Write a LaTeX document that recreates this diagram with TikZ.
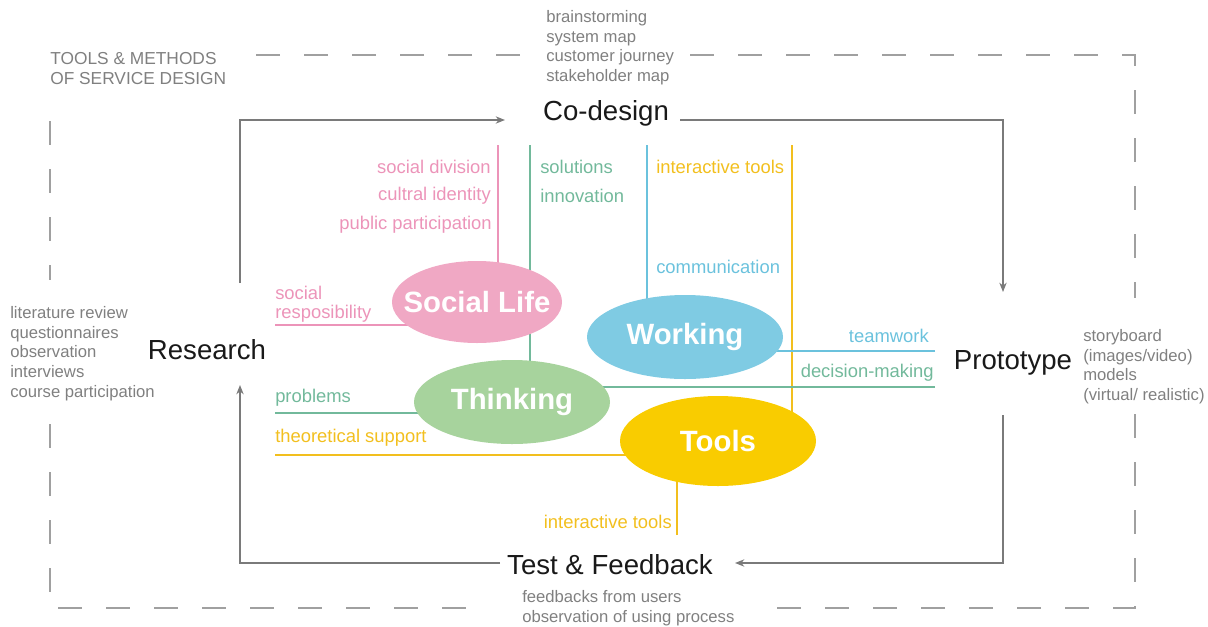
\documentclass[tikz,border=0pt]{standalone}
\usepackage{fontspec}
\setmainfont{Liberation Sans}
\usetikzlibrary{shapes.geometric,arrows.meta,backgrounds}
\definecolor{grayt}{HTML}{808080}
\definecolor{grayl}{HTML}{7A7A7A}
\definecolor{frame}{HTML}{A0A0A0}
\definecolor{pinkl}{HTML}{EC94B9}
\definecolor{pinkf}{HTML}{F0A8C4}
\definecolor{teall}{HTML}{72B99B}
\definecolor{greenf}{HTML}{A7D39D}
\definecolor{bluel}{HTML}{6BC2DD}
\definecolor{bluef}{HTML}{7FCBE3}
\definecolor{yell}{HTML}{F2BF1E}
\definecolor{yelf}{HTML}{F9CC00}
\tikzset{
  graytext/.style={inner sep=0pt, text=grayt, align=left, font=\fontsize{12.5}{14.8}\selectfont},
  titletext/.style={inner sep=0pt, text=grayt, align=left, font=\fontsize{13}{15}\selectfont},
  mainlabel/.style={inner sep=0pt, text=black!90, font=\fontsize{20.7}{24}\selectfont},
  clabel/.style={inner sep=0pt, font=\fontsize{13.8}{14.3}\selectfont},
  blob/.style={ellipse, draw=none, inner sep=0pt},
  blobtext/.style={text=white, font=\bfseries\fontsize{22}{24}\selectfont},
  cline/.style={line width=1.7pt},
  flow/.style={draw=grayl, line width=1pt, -{Stealth[length=7pt,width=5.5pt]}},
  framestyle/.style={draw=frame, line width=1pt, dash pattern=on 18pt off 18pt}
}
\begin{document}
\begin{tikzpicture}[x=0.75pt,y=-0.75pt]
\path[use as bounding box] (0,0) rectangle (1208,626);

% dashed frame
\draw[framestyle] (520,55) -- (240,55);
\draw[framestyle] (690,55) -- (1135,55) -- (1135,298);
\draw[framestyle] (50,121) -- (50,280);
\draw[framestyle] (50,424) -- (50,608) -- (480,608);
\draw[framestyle] (1135,414) -- (1135,608) -- (755,608);

% title
\node[titletext, anchor=north west] (title) at (50,52) {TOOLS \& METHODS\\OF SERVICE DESIGN};

% main labels
\node[mainlabel] (CD) at (606,113) {Co-design};
\node[mainlabel] (RS) at (207,350) {Research};
\node[mainlabel] (PT) at (1013,363) {Prototype};
\node[mainlabel] (TF) at (610,565) {Test \& Feedback};

% gray method lists
\node[graytext, anchor=north west] (cdlist) at (546,10) {brainstorming\\system map\\customer journey\\stakeholder map};
\node[graytext, anchor=north west] (rslist) at (10,306) {literature review\\questionnaires\\observation\\interviews\\course participation};
\node[graytext, anchor=north west] (ptlist) at (1083,329) {storyboard\\(images/video)\\models\\(virtual/ realistic)};
\node[graytext, anchor=north west] (tflist) at (522,590) {feedbacks from users\\observation of using process};

% flow arrows
\coordinate (a1s) at (240,283); \coordinate (a1e) at (505,120);
\coordinate (a2s) at (680,120); \coordinate (a2e) at (1003,292);
\coordinate (a3s) at (1003,415); \coordinate (a3e) at (735,563);
\coordinate (a4s) at (500,563); \coordinate (a4e) at (240,385);
\draw[flow] (a1s) |- (a1e);
\draw[flow] (a2s) -| (a2e);
\draw[flow] (a3s) |- (a3e);
\draw[flow] (a4s) -| (a4e);

% ellipses
\node[blob, fill=pinkf, minimum width=127.5pt, minimum height=61.5pt,
      label={[blobtext]center:Social Life}] (SL) at (477,302) {};
\node[blob, fill=bluef, minimum width=147pt, minimum height=63pt,
      label={[blobtext]center:Working}] (WK) at (685,337) {};
\node[blob, fill=greenf, minimum width=147pt, minimum height=63pt,
      label={[blobtext]center:Thinking}] (TH) at (512,402) {};
\node[blob, fill=yelf, minimum width=147pt, minimum height=67.5pt,
      label={[blobtext]center:Tools}] (TL) at (718,441) {};

% free ends of the colored lines
\coordinate (pv) at (498,145);
\coordinate (tv) at (530,145);
\coordinate (bv) at (647,145);
\coordinate (yv) at (792,145);
\coordinate (ph) at (275,325);
\coordinate (bh) at (935,351);
\coordinate (th1) at (935,387);
\coordinate (th2) at (275,413);
\coordinate (yh) at (275,455);
\coordinate (yb) at (677,535);

\begin{pgfonlayer}{background}
\draw[cline, pinkl] (pv) -- (pv |- SL.center);
\draw[cline, teall] (tv) -- (tv |- TH.center);
\draw[cline, bluel] (bv) -- (bv |- WK.center);
\draw[cline, yell] (yv) -- (yv |- TL.center);
\draw[cline, pinkl] (ph) -- (SL.center |- ph);
\draw[cline, bluel] (bh) -- (WK.center |- bh);
\draw[cline, teall] (th1) -- (TH.center |- th1);
\draw[cline, teall] (th2) -- (TH.center |- th2);
\draw[cline, yell] (yh) -- (TL.center |- yh);
\draw[cline, yell] (yb) -- (yb |- TL.center);
\end{pgfonlayer}

% colored labels
\node[clabel, text=pinkl, anchor=east] (l1) at (491,167) {social division};
\node[clabel, text=pinkl, anchor=east] (l2) at (491,196) {cultral identity};
\node[clabel, text=pinkl, anchor=east] (l3) at (492,225) {public participation};
\node[clabel, text=teall, anchor=west] (l4) at (540,167) {solutions};
\node[clabel, text=teall, anchor=west] (l5) at (540,196) {innovation};
\node[clabel, text=yell, anchor=west] (l6) at (656,167) {interactive tools};
\node[clabel, text=bluel, anchor=west] (l7) at (656,267) {communication};
\node[clabel, text=pinkl, anchor=north west, align=left] (l8) at (275,286) {social\\resposibility};
\node[clabel, text=bluel, anchor=east] (l9) at (929,336) {teamwork};
\node[clabel, text=teall, anchor=east] (l10) at (934,373) {decision-making};
\node[clabel, text=teall, anchor=west] (l11) at (275,398) {problems};
\node[clabel, text=yell, anchor=west] (l12) at (275,438) {theoretical support};
\node[clabel, text=yell, anchor=east] (l13) at (672,522) {interactive tools};
\end{tikzpicture}
\end{document}
